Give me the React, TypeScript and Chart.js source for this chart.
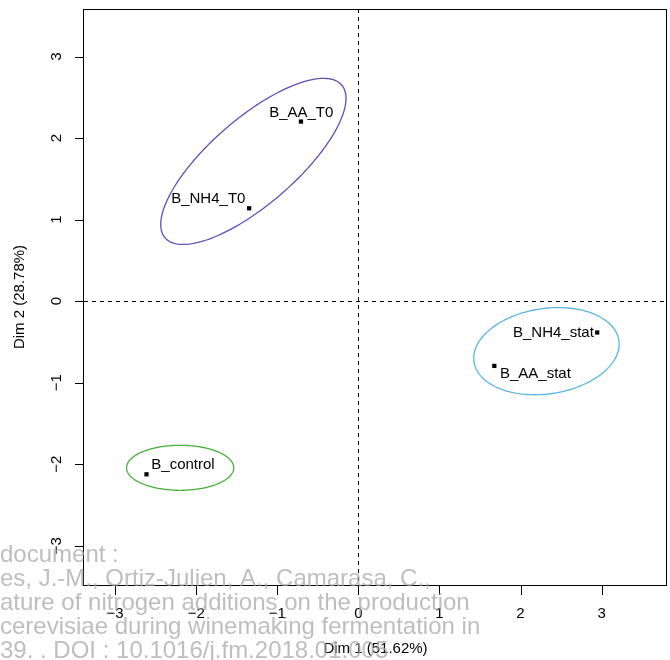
import React, { useEffect, useRef } from "react";
import { Chart, registerables } from "chart.js";

Chart.register(...registerables);

// ---- Data (individuals factor map) ----
const categories = ["B_AA_T0", "B_NH4_T0", "B_NH4_stat", "B_AA_stat", "B_control"];
const dim1 = [-0.708, -1.347, 2.946, 1.677, -2.613];
const dim2 = [2.203, 1.139, -0.385, -0.795, -2.125];
// label anchor positions (data units)
const labelDim1 = [-0.704, -1.851, 2.406, 2.184, -2.163];
const labelDim2 = [2.313, 1.252, -0.385, -0.888, -2.015];

// confidence ellipses
const ellipseGroups = ["T0", "stat", "control"];
const ellipseCx = [-1.295, 2.32, -2.198];
const ellipseCy = [1.714, -0.614, -2.045];
const ellipseA = [1.437, 0.903, 0.661];
const ellipseB = [0.528, 0.524, 0.276];
const ellipseAngleDeg = [40.7, 8.3, 0];
const ellipseColors = ["#5E50B4", "#5BB5E0", "#45B035"];

// axes
const xTicks = [-3, -2, -1, 0, 1, 2, 3];
const yTicks = [-3, -2, -1, 0, 1, 2, 3];
const X_MIN = -3.384;
const X_MAX = 3.807;
const Y_MIN = -3.483;
const Y_MAX = 3.584;
const xTitle = "Dim 1 (51.62%)";
const yTitle = "Dim 2 (28.78%)";

const watermarkLines = [
  "document :",
  "es, J.-M., Ortiz-Julien, A., Camarasa, C.,",
  "ature of nitrogen additions on the production",
  "cerevisiae during winemaking fermentation in",
  "39. . DOI : 10.1016/j.fm.2018.01.005",
];

const FONT = "'Liberation Sans', Arial, Helvetica, sans-serif";

const fmt = (v: number) => (v < 0 ? "\u2212" + Math.abs(v) : String(v));

const rPlotPlugin = {
  id: "rPlot",
  beforeDatasetsDraw(chart: any) {
    const { ctx, chartArea } = chart;
    const sx = chart.scales.x;
    const sy = chart.scales.y;
    ctx.save();
    // dashed reference lines
    ctx.strokeStyle = "#000";
    ctx.lineWidth = 1;
    ctx.setLineDash([4, 4]);
    const x0 = Math.round(sx.getPixelForValue(0)) + 0.5;
    const y0 = Math.round(sy.getPixelForValue(0)) + 0.5;
    ctx.beginPath();
    ctx.moveTo(x0, chartArea.top);
    ctx.lineTo(x0, chartArea.bottom);
    ctx.moveTo(chartArea.left, y0);
    ctx.lineTo(chartArea.right, y0);
    ctx.stroke();
    ctx.setLineDash([]);

    // ellipses
    ellipseGroups.forEach((_, i) => {
      const th = (ellipseAngleDeg[i] * Math.PI) / 180;
      ctx.beginPath();
      const N = 180;
      for (let k = 0; k <= N; k++) {
        const t = (2 * Math.PI * k) / N;
        const dx = ellipseA[i] * Math.cos(t);
        const dy = ellipseB[i] * Math.sin(t);
        const x = ellipseCx[i] + dx * Math.cos(th) - dy * Math.sin(th);
        const y = ellipseCy[i] + dx * Math.sin(th) + dy * Math.cos(th);
        const px = sx.getPixelForValue(x);
        const py = sy.getPixelForValue(y);
        if (k === 0) ctx.moveTo(px, py);
        else ctx.lineTo(px, py);
      }
      ctx.closePath();
      ctx.strokeStyle = ellipseColors[i];
      ctx.lineWidth = 1.3;
      ctx.stroke();
    });
    ctx.restore();
  },
  afterDatasetsDraw(chart: any) {
    const { ctx, chartArea } = chart;
    const sx = chart.scales.x;
    const sy = chart.scales.y;
    ctx.save();
    // point labels
    ctx.fillStyle = "#000";
    ctx.font = `15px ${FONT}`;
    ctx.textAlign = "center";
    ctx.textBaseline = "middle";
    categories.forEach((c, i) => {
      ctx.fillText(c, sx.getPixelForValue(labelDim1[i]), sy.getPixelForValue(labelDim2[i]));
    });

    // box
    ctx.strokeStyle = "#000";
    ctx.lineWidth = 1;
    ctx.strokeRect(
      chartArea.left - 0.5,
      chartArea.top + 0.5,
      chartArea.right - chartArea.left,
      chartArea.bottom - chartArea.top
    );

    // ticks
    ctx.beginPath();
    xTicks.forEach((v) => {
      const px = Math.round(sx.getPixelForValue(v)) + 0.5;
      ctx.moveTo(px, chartArea.bottom);
      ctx.lineTo(px, chartArea.bottom + 10);
    });
    yTicks.forEach((v) => {
      const py = Math.round(sy.getPixelForValue(v)) + 0.5;
      ctx.moveTo(chartArea.left, py);
      ctx.lineTo(chartArea.left - 9, py);
    });
    ctx.stroke();

    ctx.font = `15px ${FONT}`;
    ctx.textAlign = "center";
    ctx.textBaseline = "middle";
    xTicks.forEach((v) => {
      ctx.fillText(fmt(v), sx.getPixelForValue(v), chartArea.bottom + 29);
    });
    yTicks.forEach((v) => {
      ctx.save();
      ctx.translate(57, sy.getPixelForValue(v));
      ctx.rotate(-Math.PI / 2);
      ctx.fillText(fmt(v), 0, 0);
      ctx.restore();
    });

    // axis titles
    ctx.fillText(xTitle, (chartArea.left + chartArea.right) / 2, 649);
    ctx.save();
    ctx.translate(20, (chartArea.top + chartArea.bottom) / 2);
    ctx.rotate(-Math.PI / 2);
    ctx.fillText(yTitle, 0, 0);
    ctx.restore();

    // watermark
    ctx.fillStyle = "rgba(165,165,165,0.72)";
    ctx.font = `24px ${FONT}`;
    ctx.textAlign = "left";
    ctx.textBaseline = "alphabetic";
    const baselines = [562, 586, 610, 634, 658];
    watermarkLines.forEach((t, i) => ctx.fillText(t, 0, baselines[i]));
    ctx.restore();
  },
};

export default function App() {
  const ref = useRef<HTMLCanvasElement>(null);
  useEffect(() => {
    document.body.style.margin = "0";
    const canvas = ref.current!;
    const chart = new Chart(canvas, {
      type: "scatter",
      data: {
        datasets: [
          {
            label: "individuals",
            data: categories.map((_, i) => ({ x: dim1[i], y: dim2[i] })),
            pointStyle: "rect",
            pointRadius: 3,
            pointHoverRadius: 3,
            backgroundColor: "#000",
            borderColor: "#000",
            borderWidth: 0,
          },
        ],
      },
      options: {
        responsive: false,
        animation: false,
        devicePixelRatio: 1,
        events: [],
        layout: { padding: { left: 84, top: 9, right: 1, bottom: 75 } },
        plugins: { legend: { display: false }, tooltip: { enabled: false }, title: { display: false } },
        scales: {
          x: { type: "linear", min: X_MIN, max: X_MAX, display: false },
          y: { type: "linear", min: Y_MIN, max: Y_MAX, display: false },
        },
      },
      plugins: [rPlotPlugin],
    } as any);
    return () => chart.destroy();
  }, []);
  return (
    <div style={{ position: "fixed", left: 0, top: 0, width: 670, height: 660, background: "#fff" }}>
      <canvas ref={ref} width={670} height={660} style={{ display: "block", width: 670, height: 660 }} />
    </div>
  );
}
